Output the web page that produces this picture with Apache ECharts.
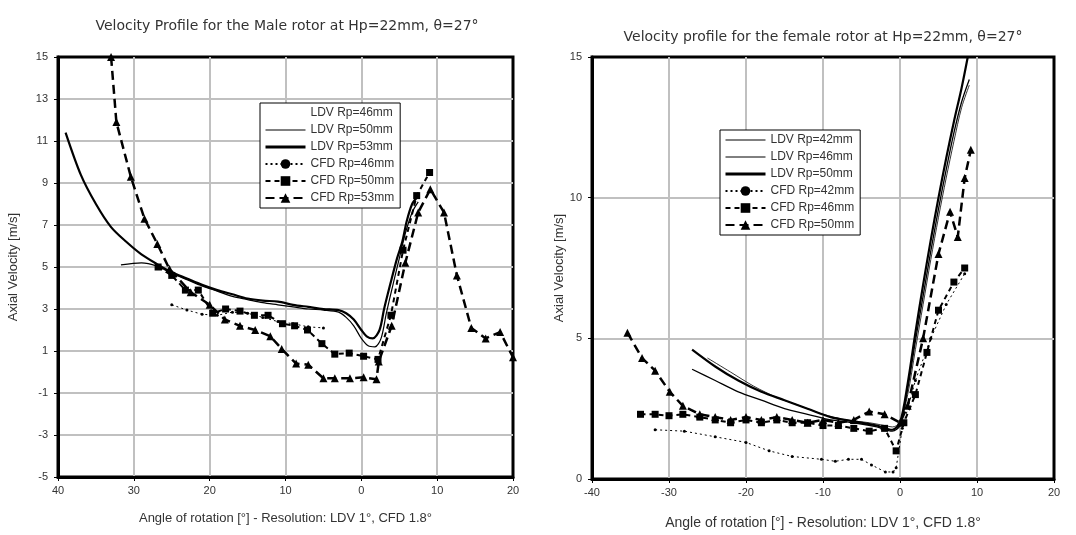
<!DOCTYPE html>
<html>
<head>
<meta charset="utf-8">
<script src="https://cdn.jsdelivr.net/npm/echarts@6/dist/echarts.min.js"></script>
<style>
html,body{margin:0;padding:0;background:#fff;}
#chart{width:1076px;height:535px;}
</style>
</head>
<body>
<div id="chart"></div>
<script>
// male rotor (left)
const maleLdv46 = [];
const maleLdv50 = [[-31.7,5.1],[-29,5.2],[-27,5.05],[-25,4.7],[-23,4.4],[-21,4.1],[-19,3.85],[-17,3.6],[-15,3.45],[-13,3.3],[-11,3.2],[-9,3.1],[-7,3.0],[-5,2.95],[-3,2.85],[-2,2.6],[-1,2.2],[0,1.6],[0.9,1.25],[1.8,1.2],[2.6,1.6],[3.3,2.8],[4.2,4.2],[5,5.4],[5.8,6.6],[6.7,7.6],[7.5,8.1]];
const maleLdv53 = [[-39,11.4],[-37,9.4],[-35,8.0],[-33,6.9],[-31,6.2],[-29,5.6],[-27,5.15],[-25,4.75],[-23,4.45],[-21,4.15],[-19,3.9],[-17,3.7],[-15,3.5],[-13,3.4],[-11,3.35],[-9,3.2],[-7,3.1],[-5,3.0],[-3,2.95],[-2,2.8],[-1,2.5],[0,2.0],[0.7,1.7],[1.5,1.6],[2.4,2.0],[3,3.0],[3.9,4.3],[4.7,5.4],[5.4,6.2],[6,7.2],[6.7,8.0],[7.3,8.3]];
const maleCfd46 = [[-25,3.2],[-23,2.95],[-21,2.75],[-19,2.7],[-17,2.85],[-15,2.8],[-13,2.6],[-11,2.4],[-9,2.3],[-7,2.15],[-5,2.1]];
const maleCfd50 = [[-26.8,5.0],[-25,4.6],[-23.2,3.9],[-21.5,3.9],[-19.6,2.8],[-17.9,3.0],[-16,2.9],[-14.1,2.7],[-12.3,2.7],[-10.4,2.3],[-8.8,2.2],[-7.1,2.0],[-5.2,1.35],[-3.5,0.85],[-1.6,0.9],[0.3,0.75],[2.2,0.6],[3.9,2.7],[5.5,5.8],[7.3,8.4],[9,9.5]];
const maleCfd53 = [[-33,15],[-32.3,11.9],[-30.4,9.3],[-28.6,7.3],[-26.9,6.1],[-25.3,4.9],[-22.5,3.8],[-20,3.2],[-18,2.5],[-16,2.2],[-14,2.0],[-12,1.7],[-10.5,1.1],[-8.6,0.4],[-7,0.35],[-5,-0.3],[-3.5,-0.3],[-1.5,-0.3],[0.3,-0.25],[2,-0.35],[2.3,0.5],[4,2.2],[5.8,5.2],[7.5,7.6],[9.1,8.7],[10.9,7.6],[12.6,4.6],[14.5,2.1],[16.4,1.6],[18.3,1.9],[20,0.7]];

// female rotor (right)
const femLdv42 = [[-25,4.3],[-22,3.8],[-19,3.3],[-16,2.9],[-13,2.6],[-10,2.3],[-7,2.1],[-4,2.0],[-2,1.9],[-1,1.85],[0,2.0],[1,3.0],[2,4.6],[3,6.2],[4,7.8],[5,9.3],[6,10.7],[7,12.0],[8,13.2],[9,14.0]];
const femLdv46 = [[-27,3.9],[-24,3.5],[-21,3.1],[-18,2.8],[-15,2.5],[-12,2.3],[-9,2.1],[-6,2.0],[-3,1.85],[-1,1.7],[0,1.9],[1,3.2],[2,4.9],[3,6.5],[4,8.1],[5,9.6],[6,11.0],[7,12.3],[8,13.4],[9,14.2]];
const femLdv50 = [[-27,4.6],[-24,4.0],[-21,3.5],[-18,3.1],[-15,2.8],[-12,2.5],[-9,2.2],[-6,2.05],[-3,1.9],[-1,1.75],[0,2.0],[1,3.4],[2,5.2],[3,6.9],[4,8.5],[5,10.0],[6,11.4],[7,12.7],[8,13.9],[8.8,15]];
const femCfd42 = [[-31.8,1.75],[-28,1.7],[-24,1.5],[-20,1.3],[-17,1.0],[-14,0.8],[-10.2,0.7],[-8.4,0.63],[-6.7,0.7],[-5,0.7],[-3.7,0.5],[-1.9,0.25],[-0.9,0.25],[-0.5,0.4],[0.3,1.8],[2,3.5],[4,5.0],[6,6.2],[8.4,7.3]];
const femCfd46 = [[-33.7,2.3],[-31.8,2.3],[-30,2.25],[-28.2,2.3],[-26,2.2],[-24,2.1],[-22,2.0],[-20,2.1],[-18,2.0],[-16,2.1],[-14,2.0],[-12,2.0],[-10,1.9],[-8,1.9],[-6,1.8],[-4,1.7],[-2,1.8],[-0.5,1.0],[0.5,2.0],[2,3.0],[3.5,4.5],[5,6.0],[7,7.0],[8.4,7.5]];
const femCfd50 = [[-35.4,5.2],[-33.5,4.3],[-31.8,3.85],[-29.9,3.1],[-28.2,2.6],[-26,2.3],[-24,2.2],[-22,2.1],[-20,2.2],[-18,2.1],[-16,2.2],[-14,2.1],[-12,2.0],[-10,2.1],[-8,2.0],[-6,2.1],[-4,2.4],[-2,2.3],[0,2.0],[1,2.6],[3,5.0],[5,8.0],[6.5,9.5],[7.5,8.6],[8.4,10.7],[9.2,11.7]];

const maleNames = ['LDV Rp=46mm','LDV Rp=50mm','LDV Rp=53mm','CFD Rp=46mm','CFD Rp=50mm','CFD Rp=53mm'];
const femNames = ['LDV Rp=42mm','LDV Rp=46mm','LDV Rp=50mm','CFD Rp=42mm','CFD Rp=46mm','CFD Rp=50mm'];

const txt = '#333';
const font = 'Liberation Sans, Arial, sans-serif';
const wideFont = 'DejaVu Sans, sans-serif';

// series names must be unique across both charts, so prefix them and strip in the legend
const mName = maleNames.map(n => 'M|' + n);
const fName = femNames.map(n => 'F|' + n);

function xAxis(idx, fmt, fs, gap){
    return {
        type:'value', gridIndex:idx, min:-40, max:20, interval:10,
        name:'Angle of rotation [°] - Resolution: LDV 1°, CFD 1.8°',
        nameLocation:'middle', nameGap:gap,
        nameTextStyle:{color:txt, fontSize:fs, fontFamily:font},
        axisLine:{onZero:false, lineStyle:{color:'#000', width:3}},
        axisTick:{show:true, inside:false, length:4, lineStyle:{color:'#000', width:1}},
        axisLabel:{color:txt, fontSize:11, fontFamily:font, margin:8, formatter:fmt},
        splitLine:{show:true, showMinLine:false, showMaxLine:false, lineStyle:{color:'#c0c0c0', width:2}}
    };
}

function yAxis(idx, min, max, interval, gap){
    return {
        type:'value', gridIndex:idx, min:min, max:max, interval:interval,
        name:'Axial Velocity [m/s]',
        nameLocation:'middle', nameGap:gap, nameRotate:90,
        nameTextStyle:{color:txt, fontSize:13, fontFamily:font},
        axisLine:{onZero:false, lineStyle:{color:'#000', width:3}},
        axisTick:{show:true, length:4, lineStyle:{color:'#000', width:1}},
        axisLabel:{color:txt, fontSize:11, fontFamily:font, margin:10},
        splitLine:{show:true, showMinLine:false, showMaxLine:false, lineStyle:{color:'#c0c0c0', width:2}}
    };
}

function ldv(name, data, w, xi, col){
    return {name:name, type:'line', xAxisIndex:xi, yAxisIndex:xi, data:data,
        symbol:'none', smooth:0.3,
        lineStyle:{color:col || '#000', width:w}, itemStyle:{color:col || '#000'}};
}
function cfdDot(name, data, xi){
    return {name:name, type:'line', xAxisIndex:xi, yAxisIndex:xi, data:data,
        symbol:'circle', symbolSize:3,
        lineStyle:{color:'#000', width:1, type:[2,3]}, itemStyle:{color:'#000'}};
}
function cfdSq(name, data, xi){
    return {name:name, type:'line', xAxisIndex:xi, yAxisIndex:xi, data:data,
        symbol:'rect', symbolSize:7,
        lineStyle:{color:'#000', width:2, type:[5,4]}, itemStyle:{color:'#000'}};
}
function cfdTri(name, data, xi){
    return {name:name, type:'line', xAxisIndex:xi, yAxisIndex:xi, data:data,
        symbol:'triangle', symbolSize:8,
        lineStyle:{color:'#000', width:2.5, type:[9,5]}, itemStyle:{color:'#000'}};
}

// LDV entries show only the line, no marker; the third one is the thick line
function legend(names, left, top, firstCol){
    return {
        data:names.map((n, i) => i < 3
            ? {name:n, itemStyle:{opacity:0},
               lineStyle:{width: i === 2 ? 3 : 1, color: i === 0 && firstCol ? firstCol : '#000'}}
            : {name:n}),
        orient:'vertical', left:left, top:top,
        backgroundColor:'#fff', borderColor:'#000', borderWidth:1,
        padding:[4,6,4,4], itemGap:5, itemWidth:40, itemHeight:12,
        formatter: n => n.slice(2),
        textStyle:{color:txt, fontSize:12, fontFamily:font}
    };
}

const chart = echarts.init(document.getElementById('chart'));
chart.setOption({
    backgroundColor:'#fff',
    animation:false,
    title:[
        {text:'Velocity Profile for the Male rotor at Hp=22mm, θ=27°', left:282, top:14, textAlign:'center',
         textStyle:{color:txt, fontSize:14, fontWeight:'normal', fontFamily:wideFont}},
        {text:'Velocity profile for the female rotor at Hp=22mm, θ=27°', left:818, top:25, textAlign:'center',
         textStyle:{color:txt, fontSize:14, fontWeight:'normal', fontFamily:wideFont}}
    ],
    legend:[legend(mName, 260, 103, 'rgba(0,0,0,0)'), legend(fName, 720, 130)],
    grid:[
        {left:58, top:57, width:455, height:420, show:true, borderColor:'#000', borderWidth:3, backgroundColor:'#fff'},
        {left:592, top:57, width:462, height:428, show:true, borderColor:'#000', borderWidth:3, backgroundColor:'#fff'}
    ],
    xAxis:[xAxis(0, v => String(Math.abs(v)), 13, 35), xAxis(1, null, 14, 37)],
    yAxis:[yAxis(0, -5, 15, 2, 38), yAxis(1, 0, 15, 5, 26)],
    series:[
        ldv(mName[0], maleLdv46, 1, 0, 'rgba(0,0,0,0)'),
        ldv(mName[1], maleLdv50, 1.2, 0),
        ldv(mName[2], maleLdv53, 2.2, 0),
        cfdDot(mName[3], maleCfd46, 0),
        cfdSq(mName[4], maleCfd50, 0),
        cfdTri(mName[5], maleCfd53, 0),
        ldv(fName[0], femLdv42, 0.8, 1),
        ldv(fName[1], femLdv46, 1.3, 1),
        ldv(fName[2], femLdv50, 2.2, 1),
        cfdDot(fName[3], femCfd42, 1),
        cfdSq(fName[4], femCfd46, 1),
        cfdTri(fName[5], femCfd50, 1)
    ]
});
</script>
</body>
</html>
